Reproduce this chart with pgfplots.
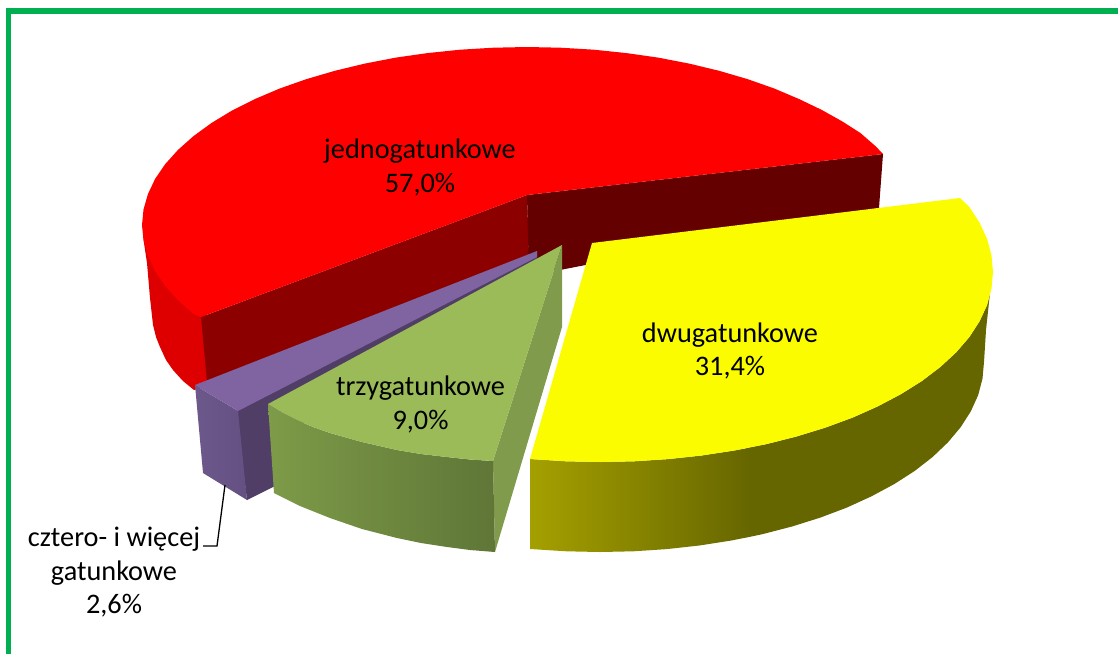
\documentclass[border=0pt]{standalone}
\usepackage{pgfplots}
\pgfplotsset{compat=1.18}
\usepackage{fontspec}
\setmainfont{Carlito}
\definecolor{frame}{HTML}{00B050}
\definecolor{redside}{RGB}{222,0,0}
\definecolor{redcut}{RGB}{140,0,0}
\definecolor{redcutb}{RGB}{100,0,0}
\definecolor{purtop}{RGB}{128,100,162}
\definecolor{purcut}{RGB}{80,62,102}
\definecolor{purl}{RGB}{108,88,138}
\definecolor{purr}{RGB}{100,80,130}
\definecolor{grtop}{RGB}{155,187,89}
\definecolor{grcut}{RGB}{128,155,75}
\definecolor{grl}{RGB}{125,155,72}
\definecolor{grr}{RGB}{95,118,55}
\definecolor{yetop}{RGB}{252,252,0}
\definecolor{yel}{RGB}{165,160,0}
\definecolor{yer}{RGB}{102,102,0}
\tikzset{lab/.style={font=\fontsize{28.3}{33.5}\selectfont,align=center,text=black,inner sep=0pt}}
\begin{document}
\begin{tikzpicture}
\path[use as bounding box] (0pt,0pt) rectangle (1118pt,654pt);
\begin{axis}[at={(0pt,0pt)},anchor=south west,width=1118pt,height=654pt,scale only axis,hide axis,
  xmin=0,xmax=1118,ymin=0,ymax=654,y dir=reverse,clip=true,
  every axis plot/.append style={no markers,draw=none}]
% frame
\addplot[draw=frame,line width=5.5pt] coordinates {(8.5,654) (8.5,11) (1118,11)};
% red outer side
\addplot[fill=redside] coordinates {(143,228)(144,243)(147,263)(150,298)(153,325)(156,337)(160,347)(166,360)(173,370)(183,381)(194,390)(210,385)(205,300)(160,230)} --cycle;
% red cut faces
\addplot[fill=redcut] coordinates {(527,195)(201,317)(207,382)(529,255)} --cycle;
\addplot[fill=redcutb] coordinates {(527,195)(883,154)(879,208)(529,276)} --cycle;
% red top
\addplot[fill=red] coordinates {(527,195)(883,154)(875.9,146.5)(860.4,133)(842.4,121.5)(821.9,110)(799.2,99.1)(774.5,88.6)(747.8,79.2)(719.5,70.9)(689.7,63.7)(658.7,57.7)(626.6,53.1)(593.9,49.7)(560.6,47.7)(527,47)(493.4,47.7)(460.1,49.7)(427.4,53.1)(395.3,57.7)(364.3,63.7)(334.5,70.9)(306.2,79.2)(279.5,88.6)(254.8,99.1)(232.1,110.5)(211.6,122.9)(193.6,136)(178.1,149.8)(165.2,164.1)(155.1,178.9)(147.9,194.1)(143.5,209.5)(142,225)(143.5,240.5)(147.9,255.9)(155.1,271.1)(165.2,285.9)(178.1,300.2)(193.6,314)(201,317)} --cycle;
% purple
\addplot[fill=purcut] coordinates {(236,411)(537,251)(537,262)(300,425)(285,480)(274,486.5)(247,500)} --cycle;
\addplot[left color=purl,right color=purr] coordinates {(195,385)(238,411)(247,500)(203,473)} --cycle;
\addplot[fill=purtop] coordinates {(195,385)(238,411)(537,257)(537,251)} --cycle;
% green
\addplot[fill=grcut] coordinates {(562,245)(493,461)(495,552)(562,327)} --cycle;
\addplot[left color=grl,right color=grr] coordinates {(268,404)(282,412.5)(297,420)(313,427)(330,433)(362,442)(397,450)(421,454)(447,457)(470,459.5)(493,461)(495,552)(470,550)(447,547)(421,543)(397,538)(362,529)(330,518)(300,506)(274,493)} --cycle;
\addplot[fill=grtop] coordinates {(562,245)(268,404)(282,412.5)(297,420)(313,427)(330,433)(362,442)(397,450)(421,454)(447,457)(470,459.5)(493,461)} --cycle;
% yellow outer side
\addplot[left color=yel,right color=yer] coordinates {(530,459)(565.7,461.3)(600,462)(634.3,461.3)(668.2,459.1)(701.7,455.5)(734.4,450.5)(750,447.5)(750,536.8)(731.3,540.5)(699.4,545.5)(666.7,549.1)(633.5,551.3)(600,552)(566.5,551.3)(530,549)} --cycle;
\addplot[fill=yer] coordinates {(749,447.5)(766.1,444.2)(796.5,436.5)(825.4,427.6)(852.6,417.6)(877.9,406.3)(901,394.1)(921.9,381)(940.3,367)(956.2,352.3)(969.4,337)(979.6,321.2)(987.1,305)(990,293)(986,330)(984,362)(982.5,378.6)(978.2,395)(970.9,411.2)(960.8,427)(948,442.3)(932.6,457)(914.6,471)(894.2,484.1)(871.5,496.3)(846.8,507.6)(820.3,517.6)(792,526.5)(762.3,534.2)(749,537)} --cycle;
% yellow top
\addplot[fill=yetop] coordinates {(592,243)(960,198)(969.4,207)(979.6,222.8)(987.1,239)(991.5,255.4)(993,272)(991.5,288.6)(987.1,305)(979.6,321.2)(969.4,337)(956.2,352.3)(940.3,367)(921.9,381)(901,394.1)(877.9,406.3)(852.6,417.6)(825.4,427.6)(796.5,436.5)(766.1,444.2)(734.4,450.5)(701.7,455.5)(668.2,459.1)(634.3,461.3)(600,462)(565.7,461.3)(530,459)} --cycle;
% leader
\addplot[draw=black,line width=1.3pt] coordinates {(225,485)(217,546)(203,546)};
% labels
\node[lab] at (axis cs:420,167.5) {jednogatunkowe\\57,0\%};
\node[lab] at (axis cs:730,351) {dwugatunkowe\\31,4\%};
\node[lab] at (axis cs:420.5,404.5) {trzygatunkowe\\9,0\%};
\node[lab] at (axis cs:114,572.5) {cztero- i więcej\\gatunkowe\\2,6\%};
\end{axis}
\end{tikzpicture}
\end{document}
